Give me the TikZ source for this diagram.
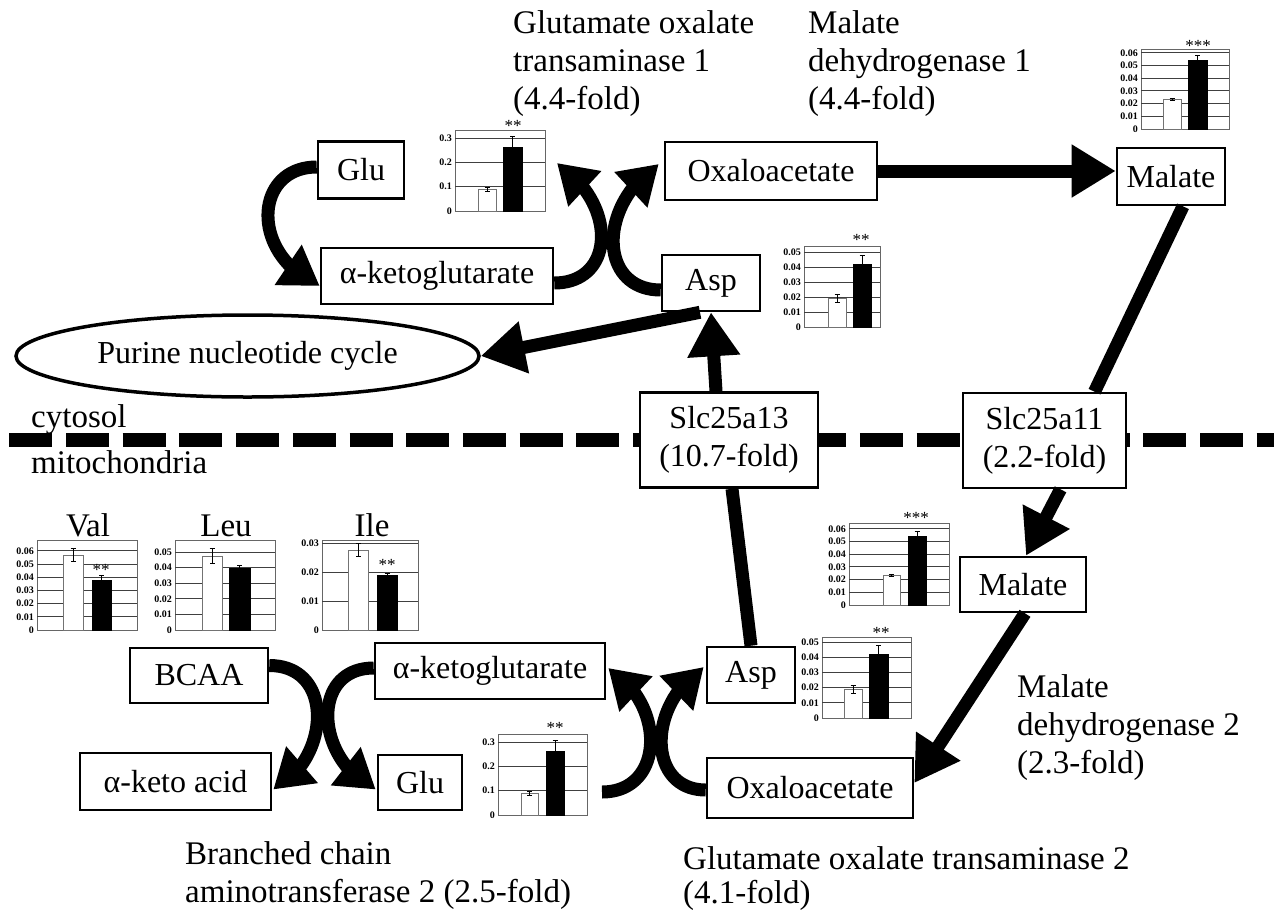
\documentclass[tikz,border=0pt]{standalone}
\usepackage{fontspec}
\setmainfont{Liberation Serif}
\usetikzlibrary{arrows.meta,bending,shapes.geometric,calc}

% frame of a small bar chart: left x, zero-line y, width, height
\newcommand\chartframe[4]{\draw[chartrule] (#1,#2) rectangle ++(#3,-#4);}
% grid lines and tick labels: name, left x, zero-line y, width, step, labels
\newcommand\chartgrid[6]{%
  \foreach \t [count=\i from 0] in {#6}{%
    \ifnum\i>0 \draw[gridrule] (#2,{#3-\i*#5}) -- ++(#4,0);\fi
    \node[ticklab] (#1-\i) at ({#2-2},{#3-\i*#5}) {\t};}}
% one bar with its error bar: style, left, right, zero-line y, height, error
\newcommand\chartbar[6]{%
  \draw[#1] (#2,#4) rectangle (#3,{#4-#5});
  \draw[errbar] ({(#2+#3)/2},{#4-#5-#6}) -- ({(#2+#3)/2},{#4-#5+#6});}

\begin{document}
\begin{tikzpicture}[x=1pt,y=-1pt,
  box/.style={draw,line width=2.6pt,fill=white,inner sep=0pt,align=center,
    font=\fontsize{32}{38}\selectfont},
  lab/.style={anchor=north west,align=left,inner sep=0pt,font=\fontsize{33}{38}\selectfont},
  side/.style={anchor=base west,inner sep=0pt,font=\fontsize{33}{38}\selectfont},
  title/.style={anchor=base,inner sep=0pt,font=\fontsize{33}{38}\selectfont},
  flow/.style={line width=13pt,-{Triangle[length=44pt,width=50pt]}},
  curveflow/.style={line width=13pt,-{Triangle[length=38pt,width=46pt]}},
  link/.style={line width=13pt},
  chartrule/.style={draw=black!60,line width=0.9pt},
  gridrule/.style={draw=black!75,line width=0.9pt},
  ticklab/.style={anchor=east,inner sep=1pt,font=\bfseries\fontsize{10}{10}\selectfont},
  whitebar/.style={draw=black!55,line width=0.9pt,fill=white},
  blackbar/.style={draw=black,line width=0.9pt,fill=black},
  errbar/.style={line width=0.8pt,{Bar[width=5pt]}-{Bar[width=5pt]}},
  stars/.style={anchor=base,inner sep=0pt,font=\fontsize{17}{17}\selectfont}]

\useasboundingbox (0,0) rectangle (1274,911);
\fill[white] (0,0) rectangle (1274,911);

% membrane between cytosol and mitochondria
\draw[line width=14pt,dash pattern=on 43pt off 13.7pt,dash phase=47.4pt] (0,440) -- (1274,440);
\node[side] (cyto) at (31,427) {cytosol};
\node[side] (mito) at (31,473) {mitochondria};

% ---------- cytosol ----------
\node[box,minimum width=86pt,minimum height=57pt] (gluT) at (361,170) {Glu};
\node[box,minimum width=232pt,minimum height=56pt] (akgT) at (437,276) {α-ketoglutarate};
\node[box,minimum width=212pt,minimum height=58pt] (oxaT) at (771,171) {Oxaloacetate};
\node[box,minimum width=98pt,minimum height=56pt] (aspT) at (711,283) {Asp};
\node[box,minimum width=108pt,minimum height=57pt] (malT) at (1171,176.5) {Malate};
\node[draw,ellipse,line width=3.5pt,minimum width=463pt,minimum height=82pt,inner sep=0pt,
  font=\fontsize{32}{38}\selectfont] (purine) at (247.5,356) {Purine nucleotide cycle};

% ---------- transporters ----------
\node[box,minimum width=178pt,minimum height=95pt] (slc13) at (729,440) {Slc25a13\\(10.7-fold)};
\node[box,minimum width=163pt,minimum height=95pt] (slc11) at (1044.5,440.5) {Slc25a11\\(2.2-fold)};

% ---------- mitochondria ----------
\node[box,minimum width=126pt,minimum height=55pt] (malM) at (1023,584.5) {Malate};
\node[box,minimum width=88pt,minimum height=56pt] (aspM) at (751,675) {Asp};
\node[box,minimum width=206pt,minimum height=60pt] (oxaM) at (810,788) {Oxaloacetate};
\node[box,minimum width=230pt,minimum height=56pt] (akgM) at (490,671) {α-ketoglutarate};
\node[box,minimum width=84pt,minimum height=55pt] (gluM) at (420,782.5) {Glu};
\node[box,minimum width=138pt,minimum height=55pt] (bcaa) at (199,675.5) {BCAA};
\node[box,minimum width=191pt,minimum height=57pt] (keto) at (175.5,781.5) {α-keto acid};
\coordinate (gluArc) at (602,792);

% enzyme labels
\node[lab] (gotT) at (513,10) {Glutamate oxalate\\transaminase 1\\(4.4-fold)};
\node[lab] (mdhT) at (808,10) {Malate\\dehydrogenase 1\\(4.4-fold)};
\node[lab] (bcat) at (185,841) {Branched chain\\aminotransferase 2 (2.5-fold)};
\node[lab,font=\fontsize{33}{34}\selectfont] (got2) at (683,846) {Glutamate oxalate transaminase 2\\(4.1-fold)};
\node[lab] (mdh2) at (1017,674) {Malate\\dehydrogenase 2\\(2.3-fold)};

% ---------- cytosolic transamination ----------
\draw[curveflow] ($(gluT.west)+(0,-3)$) .. controls +(-63,0) and +(-71,-31) .. ($(akgT.west)+(0,10)$);
\coordinate (akgTip) at (557,163);
\draw[curveflow] ($(akgT.east)+(0,7)$) .. controls +(60,0) and +(62,42) .. (akgTip);
\draw[curveflow] ($(aspT.west)+(0,7)$) .. controls +(-62,0) and +(-62,41) .. ($(oxaT.west)+(-5,-7)$);
\draw[flow] (oxaT.east) -- (oxaT.east -| malT.west);

% ---------- shuttles ----------
\draw[link] ($(malT.south)+(12,0)$) -- ($(slc11.north)+(50,0)$);
\draw[flow] ($(slc11.south)+(16,0)$) -- ($(malM.north)+(3,0)$);
\draw[flow] ($(malM.south)+(2,0)$) -- ($(oxaM.east)+(0,-5)$);
\draw[link] (aspM.north) -- ($(slc13.south)+(3,0)$);
\draw[flow] ($(slc13.north)+(-13,0)$) -- (aspT.south);
\draw[flow] ($(aspT.south)+(-11,0)$) -- (purine.east);

% ---------- mitochondrial transaminations ----------
\draw[curveflow] ($(bcaa.east)+(0,-10)$) .. controls +(66,0) and +(57,-29) .. ($(keto.east)+(1,8)$);
\draw[curveflow] ($(akgM.west)+(0,-3)$) .. controls +(-64,0) and +(-61,-29) .. ($(gluM.west)+(-1,7)$);
\draw[curveflow] (gluArc) .. controls +(62,0) and +(59,37) .. ($(akgM.east)+(2,-3)$);
\draw[curveflow] ($(oxaM.west)+(0,2)$) .. controls +(-58,0) and +(-58,38) .. ($(aspM.west)+(-2,-8)$);

% ---------- bar charts ----------
% Glu, cytosol
\chartframe{455}{211}{90}{81}
\chartgrid{cGluT}{455}{211}{90}{24.3}{0,0.1,0.2,0.3}
\chartbar{whitebar}{478}{496}{211}{21.4}{2.4}
\chartbar{blackbar}{503}{522}{211}{63.2}{12.2}
\node[stars] (cGluT-s) at (513,131) {**};
% Malate, cytosol
\chartframe{1141}{129}{88}{80}
\chartgrid{cMalT}{1141}{129}{88}{12.7}{0,0.01,0.02,0.03,0.04,0.05,0.06}
\chartbar{whitebar}{1163}{1181}{129}{29.8}{1.3}
\chartbar{blackbar}{1188}{1207}{129}{68.6}{5}
\node[stars] (cMalT-s) at (1198,51) {***};
% Asp, cytosol
\chartframe{804}{327}{76}{81}
\chartgrid{cAspT}{804}{327}{76}{15}{0,0.01,0.02,0.03,0.04,0.05}
\chartbar{whitebar}{828}{846}{327}{28.5}{4.5}
\chartbar{blackbar}{853}{871}{327}{63}{9}
\node[stars] (cAspT-s) at (861,245) {**};
% Val
\node[title] (valT) at (88,536) {Val};
\chartframe{37}{630}{100}{90}
\chartgrid{cVal}{37}{630}{100}{13.2}{0,0.01,0.02,0.03,0.04,0.05,0.06}
\chartbar{whitebar}{63}{83}{630}{75}{6.6}
\chartbar{blackbar}{92}{111}{630}{50}{5.3}
\node[stars] (cVal-s) at (101,575) {**};
% Leu
\node[title] (leuT) at (226,536) {Leu};
\chartframe{175}{630}{100}{90}
\chartgrid{cLeu}{175}{630}{100}{15.6}{0,0.01,0.02,0.03,0.04,0.05}
\chartbar{whitebar}{202}{222}{630}{74}{7.8}
\chartbar{blackbar}{229}{250}{630}{61.6}{3.9}
% Ile
\node[title] (ileT) at (372,536) {Ile};
\chartframe{322}{630}{96}{90}
\chartgrid{cIle}{322}{630}{96}{29}{0,0.01,0.02,0.03}
\chartbar{whitebar}{348}{368}{630}{80}{7}
\chartbar{blackbar}{377}{397}{630}{55}{2}
\node[stars] (cIle-s) at (387,570) {**};
% Malate, mitochondria
\chartframe{849}{605}{100}{82}
\chartgrid{cMalM}{849}{605}{100}{12.7}{0,0.01,0.02,0.03,0.04,0.05,0.06}
\chartbar{whitebar}{883}{900}{605}{29.8}{1.3}
\chartbar{blackbar}{908}{926}{605}{68.6}{5}
\node[stars] (cMalM-s) at (916,523) {***};
% Asp, mitochondria
\chartframe{822}{718}{89}{81}
\chartgrid{cAspM}{822}{718}{89}{15.2}{0,0.01,0.02,0.03,0.04,0.05}
\chartbar{whitebar}{844}{862}{718}{28.9}{4.5}
\chartbar{blackbar}{869}{888}{718}{63.8}{9}
\node[stars] (cAspM-s) at (881,638) {**};
% Glu, mitochondria
\chartframe{498}{815}{89}{81}
\chartgrid{cGluM}{498}{815}{89}{24.3}{0,0.1,0.2,0.3}
\chartbar{whitebar}{521}{538}{815}{21.4}{2.4}
\chartbar{blackbar}{546}{564}{815}{63.2}{12.2}
\node[stars] (cGluM-s) at (555,733) {**};

\end{tikzpicture}
\end{document}
